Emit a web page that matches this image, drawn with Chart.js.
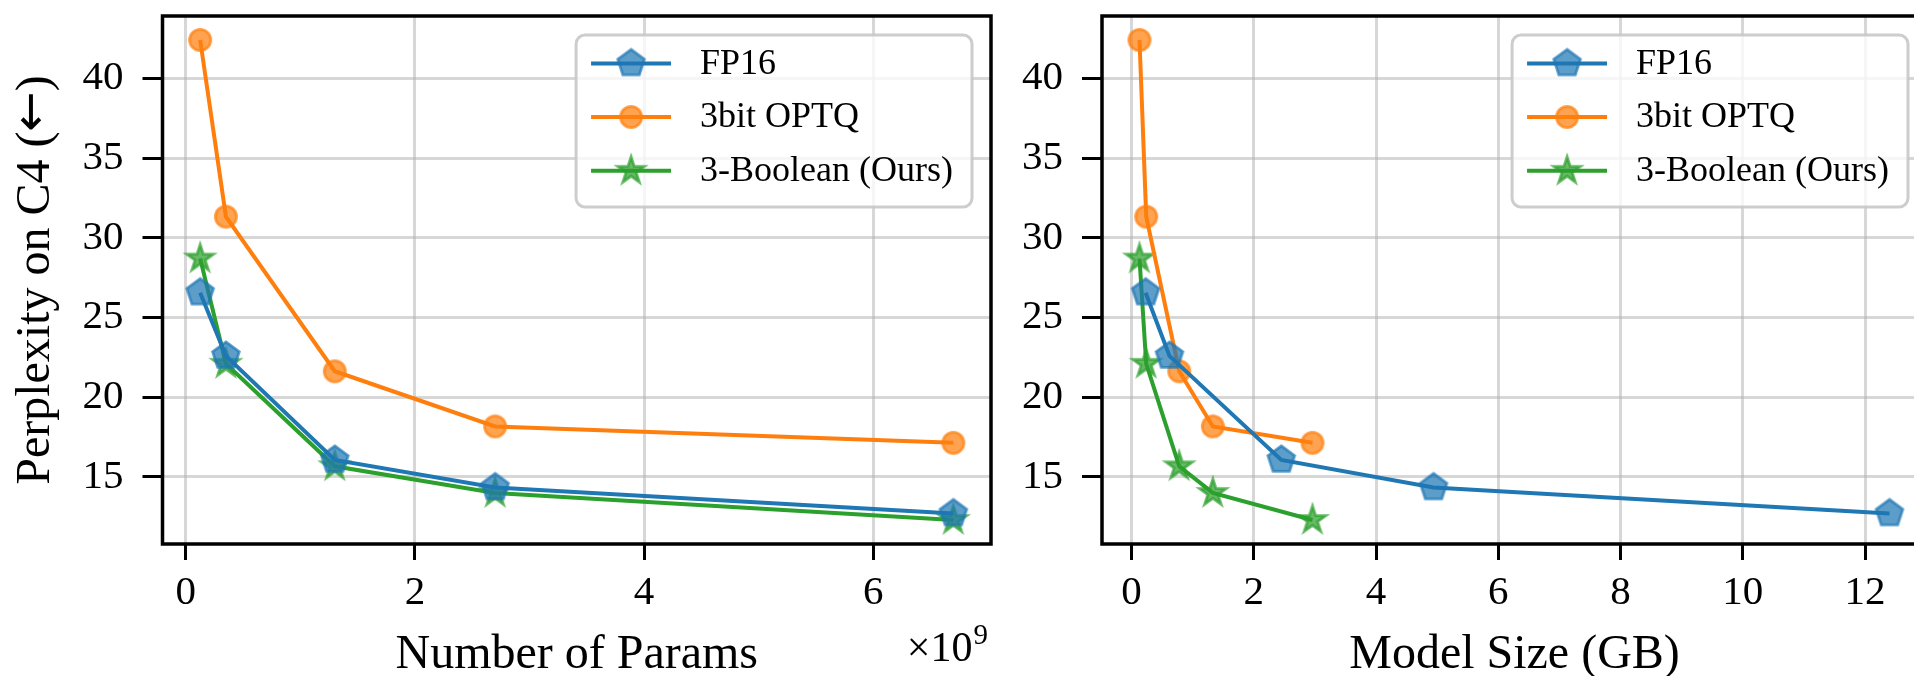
<!DOCTYPE html>
<html>
<head>
<meta charset="utf-8">
<script src="https://cdn.jsdelivr.net/npm/chart.js@4.4.1/dist/chart.umd.min.js"></script>
<style>
  html, body { margin: 0; padding: 0; background: #fff; }
  body { width: 1914px; height: 676px; overflow: hidden; position: relative; }
  canvas { position: absolute; top: 0; }
</style>
</head>
<body>
<canvas id="left" width="1010" height="676" style="left:0px"></canvas>
<canvas id="right" width="960" height="676" style="left:1010px"></canvas>
<script>
// ---- data ----
const seriesNames = ['FP16', '3bit OPTQ', '3-Boolean (Ours)'];
const params = [0.125, 0.35, 1.3, 2.7, 6.7];          // x 1e9
const fp16Size = [0.23, 0.62, 2.45, 4.94, 12.4];       // GB
const quantSize = [0.13, 0.24, 0.78, 1.33, 2.96];      // GB (3bit / 3-Boolean)
const fp16Ppl = [26.56, 22.59, 16.07, 14.34, 12.71];
const optqPpl = [42.41, 31.33, 21.63, 18.17, 17.14];
const boolPpl = [28.7, 22.1, 15.67, 14.0, 12.3];
const yTicks = [15, 20, 25, 30, 35, 40];
const xTicksParams = [0, 2, 4, 6];
const xTicksSize = [0, 2, 4, 6, 8, 10, 12];
const yTitleParts = ['Perplexity on C4 (', '←', ')'];

const FONT = "'Liberation Serif', 'DejaVu Serif', 'Times New Roman', serif";
const ARROW_FONT = "'DejaVu Sans', 'DejaVu Serif', sans-serif";
const colors = ['#1f77b4', '#ff7f0e', '#2ca02c'];

function rgba(hex, a) {
  const n = parseInt(hex.slice(1), 16);
  return `rgba(${(n >> 16) & 255},${(n >> 8) & 255},${n & 255},${a})`;
}

function markerCanvas(type, color) {
  const S = 40, c = document.createElement('canvas');
  c.width = S; c.height = S;
  const ctx = c.getContext('2d');
  const cx = S / 2, cy = S / 2;
  ctx.beginPath();
  if (type === 'circle') {
    ctx.arc(cx, cy, 10.6, 0, Math.PI * 2);
  } else if (type === 'pentagon') {
    const R = 14;
    for (let i = 0; i < 5; i++) {
      const a = -Math.PI / 2 + i * 2 * Math.PI / 5;
      const px = cx + R * Math.cos(a), py = cy + R * Math.sin(a);
      i ? ctx.lineTo(px, py) : ctx.moveTo(px, py);
    }
    ctx.closePath();
  } else {
    const R = 14, r = R * 0.381966;
    for (let i = 0; i < 10; i++) {
      const a = -Math.PI / 2 + i * Math.PI / 5;
      const rr = i % 2 ? r : R;
      const px = cx + rr * Math.cos(a), py = cy + rr * Math.sin(a);
      i ? ctx.lineTo(px, py) : ctx.moveTo(px, py);
    }
    ctx.closePath();
  }
  ctx.fillStyle = rgba(color, 0.72);
  ctx.fill();
  ctx.lineWidth = 2.8;
  ctx.lineJoin = 'miter';
  ctx.strokeStyle = rgba(color, 0.72);
  ctx.stroke();
  return c;
}
const markers = [
  markerCanvas('pentagon', colors[0]),
  markerCanvas('circle', colors[1]),
  markerCanvas('star', colors[2])
];

const framePlugin = {
  id: 'frame',
  afterDatasetsDraw(chart) {
    const a = chart.chartArea, ctx = chart.ctx;
    ctx.save();
    ctx.strokeStyle = '#000';
    ctx.lineWidth = 3.5;
    ctx.strokeRect(a.left, a.top, a.right - a.left, a.bottom - a.top);
    ctx.restore();
  }
};

const legendPlugin = {
  id: 'innerLegend',
  afterDraw(chart) {
    const a = chart.chartArea, ctx = chart.ctx;
    ctx.save();
    ctx.font = `36px ${FONT}`;
    let maxW = 0;
    seriesNames.forEach(t => { maxW = Math.max(maxW, ctx.measureText(t).width); });
    const w = 124 + maxW + 19, h = 172;
    const x = a.right - 19 - w, y = a.top + 19;
    ctx.beginPath();
    ctx.roundRect(x, y, w, h, 9);
    ctx.fillStyle = 'rgba(255,255,255,0.8)';
    ctx.fill();
    ctx.lineWidth = 3;
    ctx.strokeStyle = 'rgba(200,200,200,0.9)';
    ctx.stroke();
    const rows = [28.5, 82, 135.8];
    chart.data.datasets.forEach((ds, i) => {
      const ry = y + rows[i];
      ctx.beginPath();
      ctx.moveTo(x + 15, ry);
      ctx.lineTo(x + 95, ry);
      ctx.strokeStyle = ds.borderColor;
      ctx.lineWidth = 4;
      ctx.stroke();
      const m = ds.pointStyle;
      ctx.drawImage(m, x + 55 - m.width / 2, ry - m.height / 2);
      ctx.fillStyle = '#000';
      ctx.textBaseline = 'middle';
      ctx.textAlign = 'left';
      ctx.fillText(ds.label, x + 124, ry + 1);
    });
    ctx.restore();
  }
};

const sciPlugin = {
  id: 'sciLabel',
  afterDraw(chart) {
    const a = chart.chartArea, ctx = chart.ctx;
    ctx.save();
    ctx.fillStyle = '#000';
    ctx.textBaseline = 'alphabetic';
    ctx.textAlign = 'right';
    ctx.font = `29px ${FONT}`;
    const sup = '9';
    const supW = ctx.measureText(sup).width;
    const rx = a.right - 3;
    ctx.fillText(sup, rx, 644);
    ctx.font = `42px ${FONT}`;
    ctx.fillText('×10', rx - supW - 1, 661);
    ctx.restore();
  }
};

const yTitlePlugin = {
  id: 'yTitle',
  afterDraw(chart) {
    const a = chart.chartArea, ctx = chart.ctx;
    ctx.save();
    ctx.translate(36, (a.top + a.bottom) / 2);
    ctx.rotate(-Math.PI / 2);
    ctx.fillStyle = '#000';
    ctx.textBaseline = 'middle';
    ctx.textAlign = 'left';
    const fonts = [`48px ${FONT}`, `48px ${ARROW_FONT}`, `48px ${FONT}`];
    const widths = yTitleParts.map((t, i) => { ctx.font = fonts[i]; return ctx.measureText(t).width; });
    let x = -widths.reduce((s, v) => s + v, 0) / 2;
    yTitleParts.forEach((t, i) => {
      ctx.font = fonts[i];
      ctx.fillText(t, x, i === 1 ? -2 : 0);
      x += widths[i];
    });
    ctx.restore();
  }
};

function bounds(vals) {
  const mn = Math.min(...vals), mx = Math.max(...vals), m = (mx - mn) * 0.05;
  return [mn - m, mx + m];
}

const allPpl = fp16Ppl.concat(optqPpl, boolPpl);
const [yMin, yMax] = bounds(allPpl);

function makeChart(id, xsList, xTicks, xTitle, yWidth, padRight, extraPlugins) {
  const allX = [].concat(...xsList);
  const [xMin, xMax] = bounds(allX);
  const ys = [fp16Ppl, optqPpl, boolPpl];
  const datasets = ys.map((yv, i) => ({
    label: seriesNames[i],
    data: xsList[i].map((x, j) => ({ x: x, y: yv[j] })),
    borderColor: colors[i],
    backgroundColor: colors[i],
    borderWidth: 4,
    pointStyle: markers[i],
    pointRadius: 12,
    tension: 0,
    fill: false
  }));
  const gridCommon = {
    color: 'rgba(176,176,176,0.5)',
    lineWidth: 3,
    tickColor: '#000',
    tickWidth: 3
  };
  return new Chart(document.getElementById(id), {
    type: 'line',
    data: { datasets },
    plugins: [framePlugin, legendPlugin].concat(extraPlugins),
    options: {
      responsive: false,
      animation: false,
      devicePixelRatio: 1,
      layout: { padding: { left: 0, right: padRight, top: 12, bottom: 0 } },
      plugins: { legend: { display: false }, tooltip: { enabled: false } },
      scales: {
        x: {
          type: 'linear',
          min: xMin, max: xMax,
          afterBuildTicks: s => { s.ticks = xTicks.map(v => ({ value: v })); },
          afterFit: s => { s.height = 676 - 544; s.paddingLeft = 0; s.paddingRight = 0; },
          grid: Object.assign({ tickLength: 16 }, gridCommon),
          border: { display: false },
          ticks: { color: '#000', font: { family: FONT, size: 41, lineHeight: 1 }, padding: 13, maxRotation: 0 },
          title: { display: true, text: xTitle, color: '#000', font: { family: FONT, size: 48, lineHeight: 0.85 }, padding: { top: 0, bottom: 0 } }
        },
        y: {
          type: 'linear',
          min: yMin, max: yMax,
          afterBuildTicks: s => { s.ticks = yTicks.map(v => ({ value: v })); },
          afterFit: s => { s.width = yWidth; s.paddingTop = 0; s.paddingBottom = 0; },
          grid: Object.assign({ tickLength: 20 }, gridCommon),
          border: { display: false },
          ticks: { color: '#000', font: { family: FONT, size: 41, lineHeight: 1 }, padding: 19 },
          title: { display: false }
        }
      }
    }
  });
}

makeChart('left', [params, params, params], xTicksParams, 'Number of Params',
  162.5, 19, [sciPlugin, yTitlePlugin]);
makeChart('right', [fp16Size, quantSize, quantSize], xTicksSize, 'Model Size (GB)',
  92, 43, []);
</script>
</body>
</html>
